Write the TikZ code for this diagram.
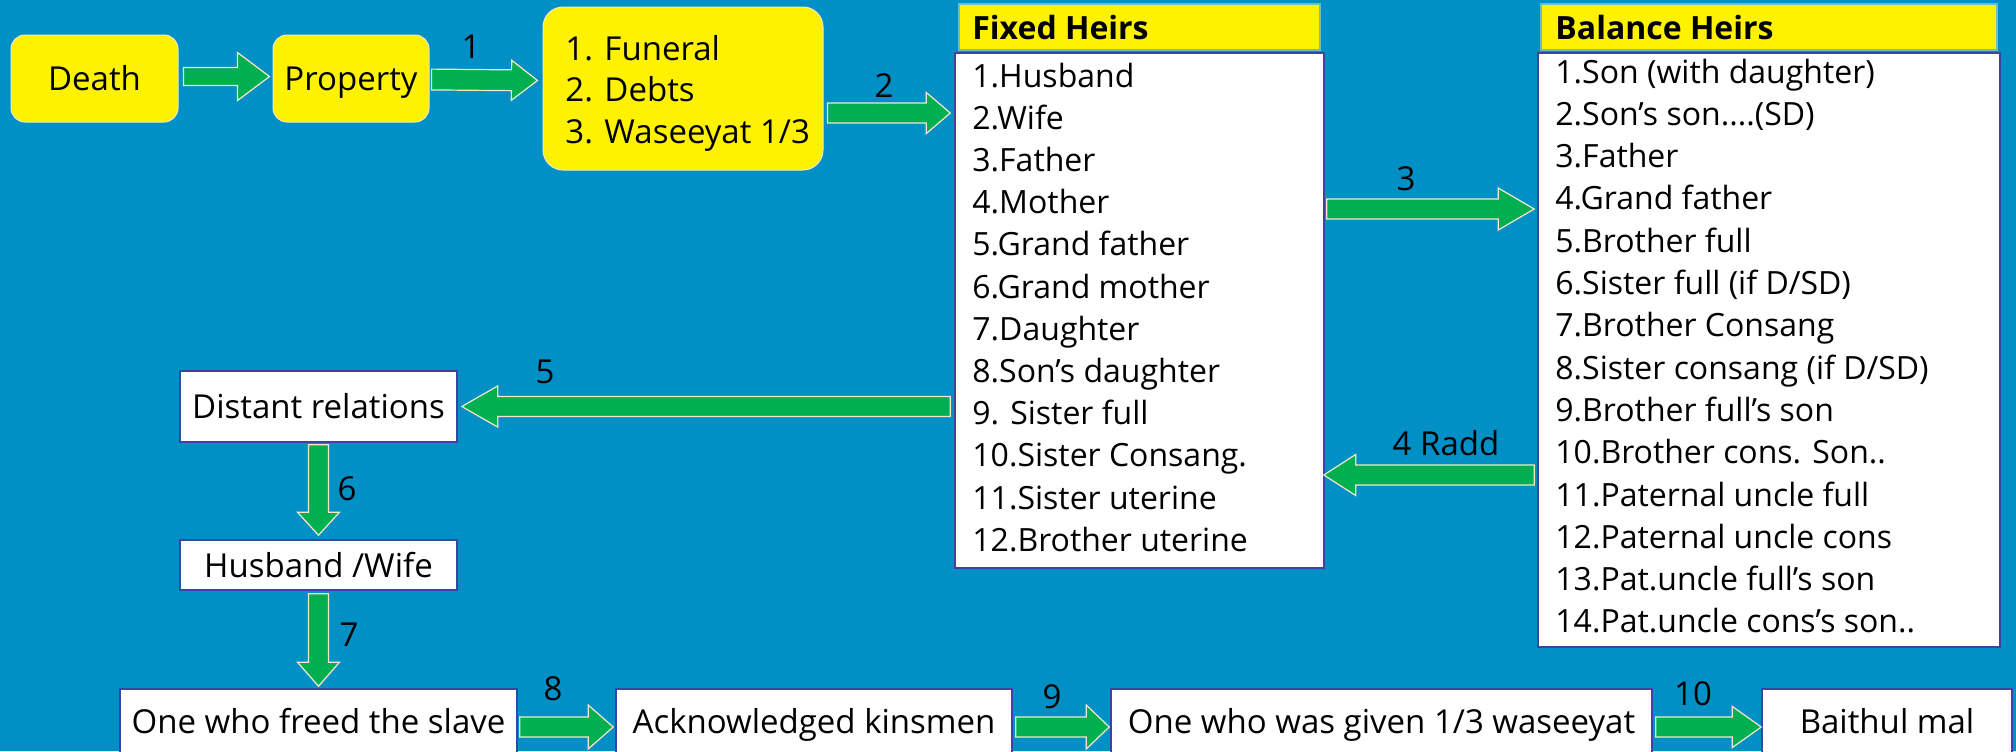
\documentclass[tikz,border=0pt]{standalone}
\usepackage{fontspec}
\setmainfont{Open Sans}
\usetikzlibrary{calc}
\definecolor{bgblue}{RGB}{0,144,197}
\definecolor{agreen}{RGB}{0,176,80}
\definecolor{acream}{RGB}{242,232,200}
\definecolor{bline}{RGB}{55,70,160}
\definecolor{hline}{RGB}{110,190,190}
\newcommand\px{0.5pt}
\newcommand\bigtxt{\fontsize{16.5}{20}\selectfont}
\newcommand\listtxt{\fontsize{16}{20}\selectfont}
\newcommand\hdtxt{\fontsize{16}{20}\selectfont\bfseries}
\tikzset{
  ybox/.style={draw=acream, line width=0.5pt, fill=yellow, rounded corners=7pt, inner sep=0pt, font=\bigtxt, text height=12pt, text depth=0pt},
  wbox/.style={draw=bline, line width=0.8pt, fill=white, inner sep=0pt, font=\bigtxt, text height=12pt, text depth=0pt},
  hdbox/.style={draw=hline, line width=0.6pt, fill=yellow, inner sep=0pt},
  lbl/.style={font=\bigtxt, inner sep=0pt, text height=12pt, text depth=0pt},
  litem/.style={anchor=base west, inner sep=0pt, font=\listtxt},
  hditem/.style={anchor=base west, inner sep=0pt, font=\hdtxt},
  barr/.style={fill=agreen, draw=acream, line width=0.6pt, line join=miter},
}
% block arrow: tail, tip, shaft half width, head half width, head length
\newcommand{\barrow}[5]{%
  \coordinate (bt) at #1;
  \coordinate (bh) at #2;
  \coordinate (bn) at ($(bh)!#5!(bt)$);
  \draw[barr] ($(bt)!#3!90:(bh)$) -- ($(bn)!#3!-90:(bt)$) -- ($(bn)!#4!-90:(bt)$) -- (bh) -- ($(bn)!#4!90:(bt)$) -- ($(bn)!#3!90:(bt)$) -- ($(bt)!#3!-90:(bh)$) -- cycle;
}
\begin{document}
\begin{tikzpicture}[x=0.5pt,y=-0.5pt]
\useasboundingbox (0,0) rectangle (2016,751);
\clip (0,0) rectangle (2016,751);
\fill[bgblue] (0,0) rectangle (2016,751);

% top row
\node[ybox, minimum width=167*\px, minimum height=87*\px] (death) at (94.5,78.5) {Death};
\node[ybox, minimum width=156*\px, minimum height=87*\px] (property) at (351,78.5) {Property};
\node[ybox, rounded corners=10pt, minimum width=280*\px, minimum height=163*\px] (funeral) at (683,88.5) {};
\node[litem, font=\bigtxt] (fun1) at (565,60) {1. Funeral};
\node[litem, font=\bigtxt] (fun2) at (565,101.7) {2. Debts};
\node[litem, font=\bigtxt] (fun3) at (565,143.3) {3. Waseeyat 1/3};

% fixed heirs
\node[wbox, minimum width=369*\px, minimum height=515*\px] (fixed) at (1139.5,310.5) {};
\node[hdbox, minimum width=361*\px, minimum height=46*\px] (fixedhd) at (1139.5,27) {};
\node[hditem] (fixedt) at (972,39) {Fixed Heirs};
\node[litem] (fx1) at (972,87) {1.Husband};
\node[litem] (fx2) at (972,129.2) {2.Wife};
\node[litem] (fx3) at (972,171.4) {3.Father};
\node[litem] (fx4) at (972,213.6) {4.Mother};
\node[litem] (fx5) at (972,255.8) {5.Grand father};
\node[litem] (fx6) at (972,298) {6.Grand mother};
\node[litem] (fx7) at (972,340.2) {7.Daughter};
\node[litem] (fx8) at (972,382.4) {8.Son’s daughter};
\node[litem] (fx9) at (972,424.6) {9. Sister full};
\node[litem] (fx10) at (972,466.8) {10.Sister Consang.};
\node[litem] (fx11) at (972,509) {11.Sister uterine};
\node[litem] (fx12) at (972,551.2) {12.Brother uterine};

% balance heirs
\node[wbox, minimum width=462*\px, minimum height=594*\px] (bal) at (1769,350) {};
\node[hdbox, minimum width=456*\px, minimum height=46*\px] (balhd) at (1769,27) {};
\node[hditem] (balt) at (1555,39) {Balance Heirs};
\node[litem] (bl1) at (1555,83) {1.Son (with daughter)};
\node[litem] (bl2) at (1555,125.3) {2.Son’s son....(SD)};
\node[litem] (bl3) at (1555,167.6) {3.Father};
\node[litem] (bl4) at (1555,209.9) {4.Grand father};
\node[litem] (bl5) at (1555,252.2) {5.Brother full};
\node[litem] (bl6) at (1555,294.5) {6.Sister full (if D/SD)};
\node[litem] (bl7) at (1555,336.8) {7.Brother Consang};
\node[litem] (bl8) at (1555,379.1) {8.Sister consang (if D/SD)};
\node[litem] (bl9) at (1555,421.4) {9.Brother full’s son};
\node[litem] (bl10) at (1555,463.7) {10.Brother cons. Son..};
\node[litem] (bl11) at (1555,506) {11.Paternal uncle full};
\node[litem] (bl12) at (1555,548.3) {12.Paternal uncle cons};
\node[litem] (bl13) at (1555,590.6) {13.Pat.uncle full’s son};
\node[litem] (bl14) at (1555,632.9) {14.Pat.uncle cons’s son..};

% left column
\node[wbox, minimum width=277*\px, minimum height=71*\px] (distant) at (318.5,406.5) {Distant relations};
\node[wbox, minimum width=277*\px, minimum height=50*\px] (husband) at (318.5,565) {Husband /Wife};

% bottom row
\node[wbox, minimum width=397*\px, minimum height=64*\px] (freed) at (318.5,721) {One who freed the slave};
\node[wbox, minimum width=396*\px, minimum height=64*\px] (ack) at (814,721) {Acknowledged kinsmen};
\node[wbox, minimum width=541*\px, minimum height=64*\px] (wase) at (1381.5,721) {One who was given 1/3 waseeyat};
\node[wbox, minimum width=250*\px, minimum height=64*\px] (baithul) at (1887,721) {Baithul mal};

% arrows
\barrow{($(death.east)+(5,-2)$)}{($(property.west)+(-3,-2)$)}{4.5pt}{12pt}{16pt}
\barrow{($(property.east)+(2,1)$)}{($(funeral.west)+(-5,-8)$)}{5.2pt}{10pt}{13pt}
\barrow{($(funeral.east |- 0,113)+(4,0)$)}{($(fixed.west |- 0,113)+(-4,0)$)}{5pt}{10.3pt}{12pt}
\barrow{($(fixed.east |- 0,209)+(2,0)$)}{($(bal.west |- 0,209)+(-3,0)$)}{5pt}{10.5pt}{18pt}
\barrow{($(bal.west |- 0,475)+(-3,0)$)}{($(fixed.east |- 0,475)+(-1,0)$)}{5pt}{10.3pt}{16pt}
\barrow{($(fixed.west |- distant.east)+(-4,0)$)}{($(distant.east)+(4,0)$)}{5pt}{10.3pt}{18pt}
\barrow{($(distant.south)+(0,2)$)}{($(husband.north)+(0,-4)$)}{5pt}{10.5pt}{11.5pt}
\barrow{($(husband.south)+(0,3)$)}{($(freed.north)+(0,-2)$)}{5pt}{10.5pt}{12pt}
\barrow{($(freed.east)+(2,6)$)}{($(ack.west)+(-2,6)$)}{5pt}{11pt}{12.5pt}
\barrow{($(ack.east)+(3,6)$)}{($(wase.west)+(-1,6)$)}{5pt}{11pt}{11.5pt}
\barrow{($(wase.east)+(3,6)$)}{($(baithul.west)+(0,6)$)}{5pt}{10.3pt}{14.5pt}

% labels
\node[lbl] (l1) at (471,46) {1};
\node[lbl] (l2) at (884,85) {2};
\node[lbl] (l3) at (1406,178) {3};
\node[lbl] (l4) at (1446,443) {4 Radd};
\node[lbl] (l5) at (545,371) {5};
\node[lbl] (l6) at (347,488) {6};
\node[lbl] (l7) at (349,634) {7};
\node[lbl] (l8) at (553,688) {8};
\node[lbl] (l9) at (1052,696) {9};
\node[lbl] (l10) at (1693,693) {10};
\end{tikzpicture}
\end{document}
